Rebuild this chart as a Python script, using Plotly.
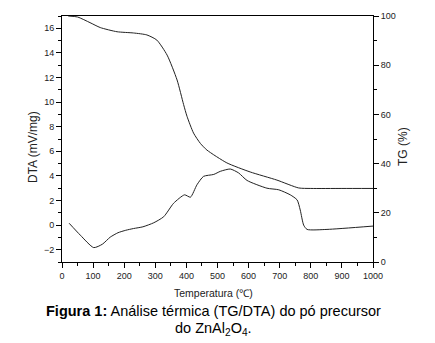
import plotly.graph_objects as go

# Thermogravimetric curve (TG, % mass) vs temperature (°C)
tg_temp = [20, 50, 90, 123, 177, 230, 273, 305, 338, 370, 391, 402, 423, 445, 466,
           530, 605, 691, 761, 800, 900, 1000]
tg_mass = [100, 99.6, 97.3, 95.3, 93.6, 93.1, 92.3, 90.2, 84.1, 74.0, 64.0, 59.2,
           52.4, 48.2, 45.5, 40.3, 36.6, 33.3, 30.1, 29.9, 29.9, 29.9]

# Differential thermal analysis curve (DTA, mV/mg) vs temperature (°C)
dta_temp = [23, 59, 102, 130, 155, 180, 205, 230, 260, 295, 327, 359, 394, 413, 434,
            455, 488, 509, 541, 568, 595, 659, 697, 734, 756, 766, 777, 788, 852, 1000]
dta_val = [0.15, -0.82, -1.83, -1.55, -0.98, -0.62, -0.42, -0.28, -0.14, 0.19, 0.68,
           1.78, 2.46, 2.27, 3.28, 3.96, 4.12, 4.37, 4.56, 4.24, 3.63, 3.0, 2.87, 2.46,
           2.05, 1.23, 0.0, -0.35, -0.35, -0.08]

x_ticks = list(range(0, 1001, 100))
dta_ticks = list(range(-2, 17, 2))
tg_ticks = list(range(0, 101, 20))

FONT = "Liberation Sans, Arial, sans-serif"
INK = "#222222"

fig = go.Figure()
fig.add_trace(go.Scatter(x=dta_temp, y=dta_val, mode="lines",
                         line=dict(color=INK, width=1, shape="spline", smoothing=0.6),
                         showlegend=False, yaxis="y"))
fig.add_trace(go.Scatter(x=tg_temp, y=tg_mass, mode="lines",
                         line=dict(color=INK, width=1, shape="spline", smoothing=0.6),
                         showlegend=False, yaxis="y2"))

axis_common = dict(showgrid=False, zeroline=False, showline=True, linecolor="black",
                   linewidth=1, ticks="outside", ticklen=5, tickwidth=1,
                   tickcolor="black", tickfont=dict(family=FONT, size=9, color=INK))

# Page geometry (pixels) used to place the free-standing texts
W, H = 435, 343
L, R, T, B = 62, 62, 16, 81
PW, PH = W - L - R, H - T - B


def px_note(text, x, y, size, color=INK, angle=0):
    return dict(text=text, x=(x - L) / PW, y=1 - (y - T) / PH,
                xref="paper", yref="paper", xanchor="center", yanchor="middle",
                showarrow=False, textangle=angle,
                font=dict(family=FONT, size=size, color=color))


fig.update_layout(
    width=W, height=H,
    margin=dict(l=L, r=R, t=T, b=B),
    paper_bgcolor="white", plot_bgcolor="white",
    xaxis=dict(range=[0, 1000], tickvals=x_ticks, mirror=True,
               minor=dict(dtick=50, ticklen=3, ticks="outside", tickcolor="black"),
               **axis_common),
    yaxis=dict(range=[-3, 17], tickvals=dta_ticks,
               minor=dict(dtick=1, ticklen=3, ticks="outside", tickcolor="black"),
               **axis_common),
    yaxis2=dict(range=[0, 100], tickvals=tg_ticks, overlaying="y", side="right",
                minor=dict(dtick=10, ticklen=3, ticks="outside", tickcolor="black"),
                **axis_common),
    annotations=[
        px_note("DTA (mV/mg)", 33, 147, 12, angle=-90),
        px_note("TG (%)", 403, 147, 12, angle=-90),
        px_note("Temperatura (℃)", 213, 293, 10.5),
        px_note("<b>Figura 1:</b> Análise térmica (TG/DTA) do pó precursor",
                213, 311, 14.5, color="black"),
        px_note("do ZnAl<sub>2</sub>O<sub>4</sub>.", 213, 329, 14.5, color="black"),
    ],
)

fig.write_html("out.html")
